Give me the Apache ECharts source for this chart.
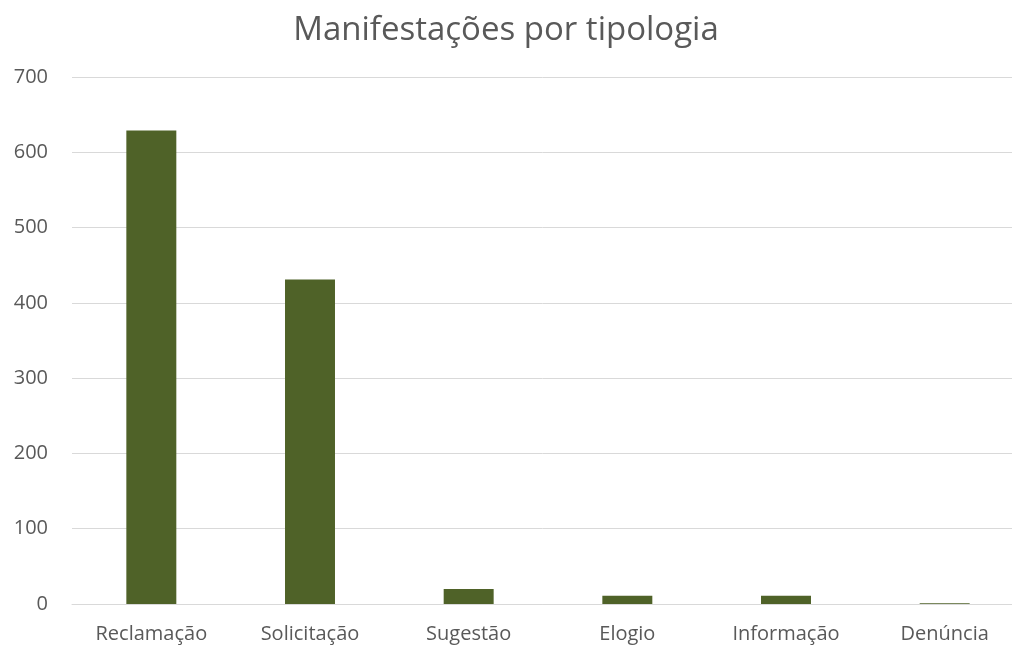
<!DOCTYPE html>
<html>
<head>
<meta charset="utf-8">
<script src="https://cdn.jsdelivr.net/npm/echarts@6/dist/echarts.min.js"></script>
<style>
  html, body { margin: 0; padding: 0; background: #fff; }
  #chart { width: 1012px; height: 646px; }
</style>
</head>
<body>
<div id="chart"></div>
<script>
const categories = ['Reclamação', 'Solicitação', 'Sugestão', 'Elogio', 'Informação', 'Denúncia'];
const values = [629, 431, 20, 11, 11, 1];
const yTicks = { min: 0, max: 700, interval: 100 };

const chart = echarts.init(document.getElementById('chart'));
const option = {
  backgroundColor: '#ffffff',
  textStyle: { fontFamily: 'Open Sans' },
  title: {
    text: 'Manifestações por tipologia',
    left: 'center',
    top: 9,
    textStyle: { color: '#595959', fontSize: 33, fontWeight: 'normal', fontFamily: 'Open Sans' }
  },
  // plot runs past the right edge, as in the source
  grid: { left: 72, width: 952, top: 77, bottom: 42, containLabel: false, outerBoundsMode: 'none' },
  xAxis: {
    type: 'category',
    data: categories,
    axisLine: { show: true, lineStyle: { color: '#d9d9d9', width: 1 } },
    axisTick: { show: false },
    axisLabel: { color: '#595959', fontSize: 20, margin: 20 }
  },
  yAxis: {
    type: 'value',
    min: yTicks.min,
    max: yTicks.max,
    interval: yTicks.interval,
    axisLine: { show: false },
    axisTick: { show: false },
    splitLine: { lineStyle: { color: '#d9d9d9', width: 1 } },
    axisLabel: { color: '#595959', fontSize: 20, margin: 24 }
  },
  series: [{
    type: 'bar',
    data: values,
    barWidth: '31.5%',
    itemStyle: { color: '#4f6228' }
  }]
};
chart.setOption(option);
</script>
</body>
</html>
